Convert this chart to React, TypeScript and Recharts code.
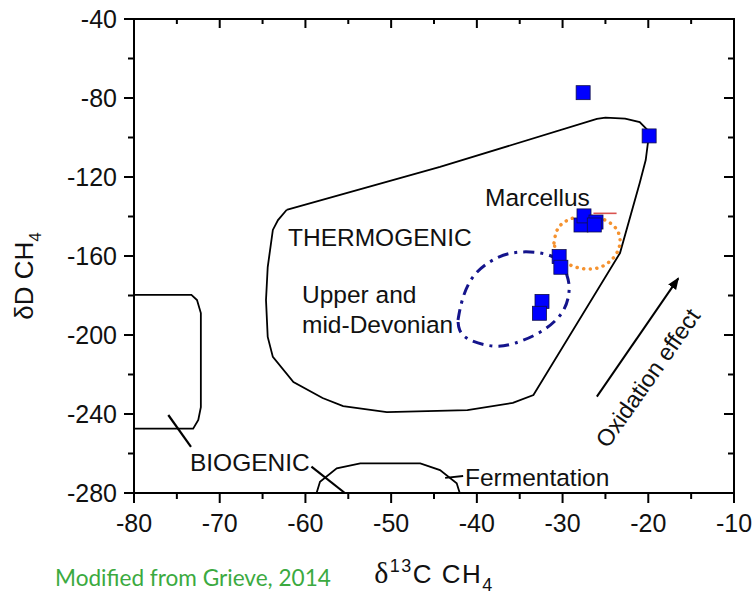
import React from 'react';
import { ComposedChart, Line, Scatter, XAxis, YAxis } from 'recharts';

type Pt = { x: number; y: number };

const FONT = "'Liberation Sans', Arial, Helvetica, sans-serif";
const CHART_W = 753;
const CHART_H = 596;
const MARGIN = { top: 19, right: 19, bottom: 43, left: 74 };
const Y_AXIS_W = 60;
const X_AXIS_H = 60;

// axis ticks (major + minor)
const xTicks = [-80, -75, -70, -65, -60, -55, -50, -45, -40, -35, -30, -25, -20, -15, -10];
const yTicks = [-280, -260, -240, -220, -200, -180, -160, -140, -120, -100, -80, -60, -40];
const xDomain = [-80, -10];
const yDomain = [-280, -40];

// field outlines
const thermogenic: Pt[] = [
  { x: -62.2, y: -136.7 },
  { x: -44.3, y: -114.9 },
  { x: -26.0, y: -90.6 },
  { x: -25.0, y: -89.9 },
  { x: -22.7, y: -90.4 },
  { x: -21.0, y: -92.2 },
  { x: -20.1, y: -96.2 },
  { x: -20.0, y: -101.3 },
  { x: -20.3, y: -111.4 },
  { x: -21.0, y: -123.0 },
  { x: -23.3, y: -158.5 },
  { x: -33.4, y: -230.4 },
  { x: -35.8, y: -234.4 },
  { x: -41.1, y: -238.0 },
  { x: -50.5, y: -239.0 },
  { x: -55.6, y: -236.0 },
  { x: -58.0, y: -231.9 },
  { x: -61.4, y: -223.8 },
  { x: -63.8, y: -211.1 },
  { x: -64.4, y: -201.0 },
  { x: -64.6, y: -182.3 },
  { x: -64.4, y: -165.6 },
  { x: -63.8, y: -146.8 },
  { x: -63.2, y: -141.8 },
  { x: -62.2, y: -136.7 },
];

const biogenic: Pt[] = [
  { x: -80, y: -179.7 },
  { x: -73.3, y: -179.7 },
  { x: -72.65, y: -182.3 },
  { x: -72.2, y: -188.9 },
  { x: -72.2, y: -236.5 },
  { x: -72.5, y: -243.0 },
  { x: -73.1, y: -247.4 },
  { x: -80, y: -247.4 },
];

const fermentation: Pt[] = [
  { x: -58.7, y: -280 },
  { x: -58.3, y: -274.3 },
  { x: -56.35, y: -267.5 },
  { x: -53.6, y: -265.0 },
  { x: -46.6, y: -265.0 },
  { x: -44.3, y: -268.4 },
  { x: -42.35, y: -275.1 },
  { x: -42.0, y: -280 },
];

const leaderBiogenic: Pt[] = [{ x: -76.0, y: -240.5 }, { x: -73.35, y: -256.6 }];
const leaderBiogenic2: Pt[] = [{ x: -59.3, y: -266.7 }, { x: -55.4, y: -280 }];
const leaderFermentation: Pt[] = [{ x: -43.7, y: -272.3 }, { x: -41.6, y: -271.4 }];

const devonianField: Pt[] = [
  { x: -42.2, y: -192.4 },
  { x: -41.7, y: -182.3 },
  { x: -40.45, y: -170.6 },
  { x: -38.1, y: -162.0 },
  { x: -35.0, y: -158.0 },
  { x: -31.1, y: -160.5 },
  { x: -29.5, y: -169.6 },
  { x: -29.25, y: -178.2 },
  { x: -30.1, y: -188.9 },
  { x: -32.6, y: -198.5 },
  { x: -35.55, y: -204.1 },
  { x: -38.1, y: -205.6 },
  { x: -40.8, y: -202.5 },
  { x: -42.0, y: -197.5 },
  { x: -42.2, y: -192.4 },
];

const marcellusField: Pt[] = [
  { x: -31.0, y: -153.4 },
  { x: -30.5, y: -145.8 },
  { x: -29.1, y: -141.3 },
  { x: -27.15, y: -139.7 },
  { x: -25.05, y: -141.8 },
  { x: -23.65, y: -146.8 },
  { x: -23.3, y: -153.4 },
  { x: -23.9, y: -160.0 },
  { x: -25.3, y: -165.1 },
  { x: -27.15, y: -166.6 },
  { x: -29.1, y: -164.6 },
  { x: -30.5, y: -160.0 },
  { x: -31.0, y: -153.4 },
];

const redMark: Pt[] = [{ x: -26.4, y: -138.4 }, { x: -23.7, y: -138.4 }];
const oxidationArrow: Pt[] = [{ x: -26.0, y: -231.2 }, { x: -16.5, y: -171.3 }];

// samples
const samples: Pt[] = [
  { x: -27.6, y: -77.3 },
  { x: -19.9, y: -99.2 },
  { x: -27.85, y: -144.3 },
  { x: -27.5, y: -139.7 },
  { x: -26.1, y: -142.8 },
  { x: -26.3, y: -144.3 },
  { x: -30.4, y: -160.3 },
  { x: -30.2, y: -165.7 },
  { x: -32.4, y: -183.0 },
  { x: -32.7, y: -189.0 },
];

// annotations
const labels = [
  { x: -62.03, y: -154.8, text: 'THERMOGENIC' },
  { x: -39.05, y: -134.5, text: 'Marcellus' },
  { x: -60.4, y: -183.8, text: 'Upper and' },
  { x: -60.4, y: -199.0, text: 'mid-Devonian' },
  { x: -73.47, y: -268.7, text: 'BIOGENIC' },
  { x: -41.38, y: -276.5, text: 'Fermentation' },
];
const rotatedLabels = [{ x: -20.03, y: -221.8, text: 'Oxidation effect' }];

// plot box, from the chart size, margins and axis sizes
const PLOT = {
  left: MARGIN.left + Y_AXIS_W,
  right: CHART_W - MARGIN.right,
  top: MARGIN.top,
  bottom: CHART_H - MARGIN.bottom - X_AXIS_H,
};

const BottomTick = (props: any) => {
  const { x, y, payload } = props;
  const major = payload.value % 10 === 0;
  return (
    <g>
      <line x1={x} y1={y} x2={x} y2={y + (major ? 10 : 6)} stroke="#000" strokeWidth={2} />
      {major && (
        <text x={x} y={y + 39} textAnchor="middle" fontSize={25} fontFamily={FONT} fill="#111">
          {payload.value}
        </text>
      )}
    </g>
  );
};

const LeftTick = (props: any) => {
  const { x, y, payload } = props;
  const major = payload.value % 40 === 0;
  return (
    <g>
      <line x1={x} y1={y} x2={x - (major ? 10 : 6)} y2={y} stroke="#000" strokeWidth={2} />
      {major && (
        <text x={x - 17} y={y + 9} textAnchor="end" fontSize={25} fontFamily={FONT} fill="#111">
          {payload.value}
        </text>
      )}
    </g>
  );
};

// mirrored top/right edges with inward ticks (drawn as filled bars)
const Frame = () => {
  const { left, right, top, bottom } = PLOT;
  const px = (v: number) => left + ((v - xDomain[0]) / (xDomain[1] - xDomain[0])) * (right - left);
  const py = (v: number) => bottom - ((v - yDomain[0]) / (yDomain[1] - yDomain[0])) * (bottom - top);
  return (
    <g className="plot-frame">
      <rect x={left - 1} y={top - 1} width={right - left + 2} height={2} fill="#000" />
      <rect x={right - 1} y={top - 1} width={2} height={bottom - top + 2} fill="#000" />
      {xTicks.map((t) => (
        <rect key={`tt${t}`} x={px(t) - 1} y={top} width={2} height={t % 10 === 0 ? 9 : 5} fill="#000" />
      ))}
      {yTicks.map((t) => {
        const len = t % 40 === 0 ? 10 : 6;
        return <rect key={`rt${t}`} x={right - len} y={py(t) - 1} width={len} height={2} fill="#000" />;
      })}
    </g>
  );
};

const XTitle = (props: any) => {
  const vb = props.viewBox || {};
  const cx = vb.x + vb.width / 2;
  const y = vb.y + 90;
  return (
    <g>
      <text x={cx} y={y} textAnchor="middle" fontSize={26} letterSpacing={1.5} fontFamily={FONT} fill="#111">
        <tspan fontFamily="'Liberation Serif', 'Times New Roman', serif" fontSize={30}>δ</tspan>
        <tspan fontSize={18} dy={-11}>13</tspan>
        <tspan dy={11}>C CH</tspan>
        <tspan fontSize={18} dy={8}>4</tspan>
      </text>
      <text x={vb.x - 79} y={vb.y + 93} fontSize={22.6} fontFamily="Lato, 'Open Sans', sans-serif" fill="#3BAA3F">
        Modified from Grieve, 2014
      </text>
    </g>
  );
};

const YTitle = (props: any) => {
  const vb = props.viewBox || {};
  const x = vb.x - 41;
  const y = vb.y + vb.height / 2 + 20;
  return (
    <text
      x={x}
      y={y}
      transform={`rotate(-90 ${x} ${y})`}
      textAnchor="middle"
      fontSize={26}
      fontFamily={FONT}
      fill="#111"
    >
      <tspan>δD CH</tspan>
      <tspan fontSize={17} dy={8}>4</tspan>
    </text>
  );
};

const SquareShape = (props: any) => {
  const { cx, cy } = props;
  return <rect x={cx - 7} y={cy - 7} width={14} height={14} fill="#0000FF" stroke="#10104a" strokeWidth={0.8} />;
};

const LabelShape = (props: any) => {
  const { cx, cy, payload } = props;
  return (
    <text x={cx} y={cy} fontSize={24.5} fontFamily={FONT} fill="#111">
      {payload.text}
    </text>
  );
};

const RotatedLabelShape = (props: any) => {
  const { cx, cy, payload } = props;
  return (
    <text
      x={cx}
      y={cy}
      transform={`rotate(-55 ${cx} ${cy})`}
      textAnchor="middle"
      dominantBaseline="central"
      fontSize={23.5}
      fontFamily={FONT}
      fill="#111"
    >
      {payload.text}
    </text>
  );
};

const outline = (data: Pt[], key: string, extra: any = {}) => (
  <Line
    key={key}
    data={data}
    dataKey="y"
    type="linear"
    stroke="#000"
    strokeWidth={1.8}
    dot={false}
    activeDot={false}
    isAnimationActive={false}
    {...extra}
  />
);

export default function App() {
  return (
    <div style={{ position: 'absolute', left: 0, top: 0, background: '#fff' }}>
      <ComposedChart width={CHART_W} height={CHART_H} margin={MARGIN}>
        <defs>
          <marker id="arrowHead" viewBox="0 0 10 10" refX="9" refY="5" markerWidth="6" markerHeight="6" orient="auto" markerUnits="strokeWidth">
            <path d="M0,1 L10,5 L0,9 Z" fill="#000" />
          </marker>
        </defs>
        <Frame />
        <XAxis
          dataKey="x"
          type="number"
          domain={xDomain}
          ticks={xTicks}
          interval={0}
          height={X_AXIS_H}
          tickSize={0}
          tickMargin={0}
          tickLine={false}
          axisLine={{ stroke: '#000', strokeWidth: 2 }}
          tick={BottomTick}
          label={XTitle}
        />
        <YAxis
          dataKey="y"
          type="number"
          domain={yDomain}
          ticks={yTicks}
          interval={0}
          width={Y_AXIS_W}
          tickSize={0}
          tickMargin={0}
          tickLine={false}
          axisLine={{ stroke: '#000', strokeWidth: 2 }}
          tick={LeftTick}
          label={YTitle}
        />

        {outline(thermogenic, 'thermo')}
        {outline(biogenic, 'bio')}
        {outline(fermentation, 'ferm')}
        {outline(leaderBiogenic, 'lb1', { strokeWidth: 2.2 })}
        {outline(leaderBiogenic2, 'lb2', { strokeWidth: 2.2 })}
        {outline(leaderFermentation, 'lf', { strokeWidth: 1.8 })}
        {outline(devonianField, 'dev', {
          type: 'natural',
          stroke: '#14148C',
          strokeWidth: 3,
          strokeDasharray: '11 6 3 6',
        })}
        {outline(marcellusField, 'marc', {
          type: 'natural',
          stroke: '#F5922F',
          strokeWidth: 3.5,
          strokeDasharray: '0.1 6.5',
          strokeLinecap: 'round',
        })}
        {outline(redMark, 'red', { stroke: '#D9534F', strokeWidth: 1.6 })}
        {outline(oxidationArrow, 'arrow', { strokeWidth: 2, markerEnd: 'url(#arrowHead)' })}

        <Scatter data={samples} dataKey="y" shape={SquareShape} isAnimationActive={false} />
        <Scatter data={labels} dataKey="y" shape={LabelShape} isAnimationActive={false} />
        <Scatter data={rotatedLabels} dataKey="y" shape={RotatedLabelShape} isAnimationActive={false} />
      </ComposedChart>
    </div>
  );
}
